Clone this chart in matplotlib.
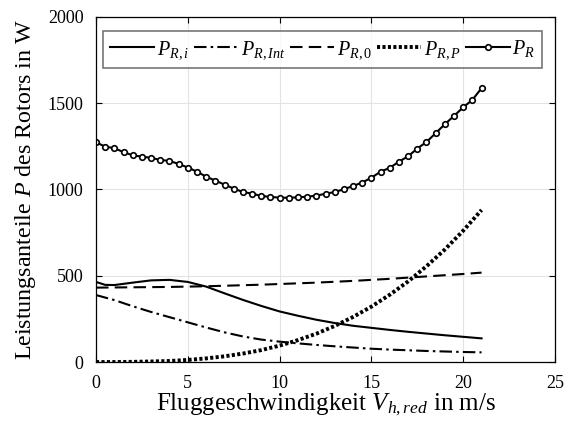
import matplotlib
matplotlib.use("Agg")
import matplotlib.pyplot as plt
import numpy as np

# Data
v = [0, 1, 2, 3, 4, 5, 6, 7, 8, 9, 10, 11, 12, 13, 14, 15, 16, 17, 18, 19, 20, 21]
v_i = [0, 0.5, 1, 2, 3, 4, 5, 6, 7, 8, 9, 10, 11, 12, 13, 14, 15, 16, 17, 18, 19, 20, 21]
P_Ri = [464, 447, 446, 460, 473, 476, 464, 437, 398, 360, 325, 293, 268, 245, 226, 210, 198, 186, 175, 165, 155, 146, 137]
P_RInt = [388, 359, 323, 290, 260, 230, 200, 172, 148, 130, 118, 108, 99, 91, 84, 77, 72, 68, 64, 61, 58, 56]
P_R0 = [431, 432, 433, 434, 435, 437, 439, 442, 445, 448, 452, 456, 460, 465, 470, 476, 482, 489, 496, 503, 510, 518]
P_RP = [0, 0, 1, 3, 6, 12, 21, 33, 49, 69, 95, 127, 164, 209, 261, 321, 390, 467, 555, 652, 761, 881]
v_R = [0, 0.5, 1, 1.5, 2, 2.5, 3, 3.5, 4, 4.5, 5, 5.5, 6, 6.5, 7, 7.5, 8, 8.5, 9, 9.5, 10,
       10.5, 11, 11.5, 12, 12.5, 13, 13.5, 14, 14.5, 15, 15.5, 16, 16.5, 17, 17.5, 18, 18.5,
       19, 19.5, 20, 20.5, 21]
P_R = [1273, 1248, 1239, 1216, 1198, 1190, 1183, 1171, 1165, 1148, 1127, 1103, 1074, 1051,
       1028, 1005, 985, 976, 962, 957, 952, 952, 954, 958, 964, 975, 985, 1001, 1020, 1040,
       1068, 1103, 1125, 1161, 1192, 1237, 1275, 1326, 1378, 1426, 1476, 1519, 1587]
xticks = [0, 5, 10, 15, 20, 25]
yticks = [0, 500, 1000, 1500, 2000]

plt.rcParams['font.family'] = 'Liberation Serif'
plt.rcParams['mathtext.fontset'] = 'custom'
plt.rcParams['mathtext.rm'] = 'Liberation Serif'
plt.rcParams['mathtext.it'] = 'Liberation Serif:italic'
plt.rcParams['mathtext.bf'] = 'Liberation Serif:bold'

fig = plt.figure(figsize=(5.66, 4.32), dpi=100)
ax = fig.add_axes([0.1696, 0.162, 0.811, 0.799])

ax.plot(v_i, P_Ri, color='black', lw=1.5, ls='-', label=r'$P_{R,i}$')
ax.plot(v, P_RInt, color='black', lw=1.5, ls=(0, (6, 2, 1.2, 2)), label=r'$P_{R,Int}$')
ax.plot(v, P_R0, color='black', lw=1.5, ls=(0, (6, 3)), label=r'$P_{R,0}$')
ax.plot(v, P_RP, color='black', lw=2.8, ls=(0, (0.8, 0.6)), label=r'$P_{R,P}$')
ax.plot(v_R, P_R, color='black', lw=1.5, ls='-', marker='o', ms=4,
        mfc='white', mec='black', mew=1.2, label=r'$P_R$')

ax.set_xlim(0, 25)
ax.set_ylim(0, 2000)
ax.set_xticks(xticks)
ax.set_yticks(yticks)
ax.grid(True, color='#e3e3e3', lw=0.8)
ax.set_axisbelow(True)
ax.tick_params(direction='in', length=4, labelsize=13, top=True, right=True,
               width=0.8, pad=9)
for s in ax.spines.values():
    s.set_linewidth(0.9)

ax.set_xlabel(r'Fluggeschwindigkeit $V_{h,red}$ in m/s', fontsize=18, labelpad=0)
ax.set_ylabel(r'Leistungsanteile $P$ des Rotors in W', fontsize=17.3, labelpad=7)

leg = ax.legend(loc='upper center', ncol=5, fontsize=14.5, frameon=True, fancybox=False,
                edgecolor='#555555', handlelength=2.2, handletextpad=0.12,
                columnspacing=0.25, borderpad=0.35, bbox_to_anchor=(0.4935, 0.96),
                borderaxespad=0.0)
leg.get_frame().set_linewidth(1.2)

fig.savefig('out.png', dpi=100)
